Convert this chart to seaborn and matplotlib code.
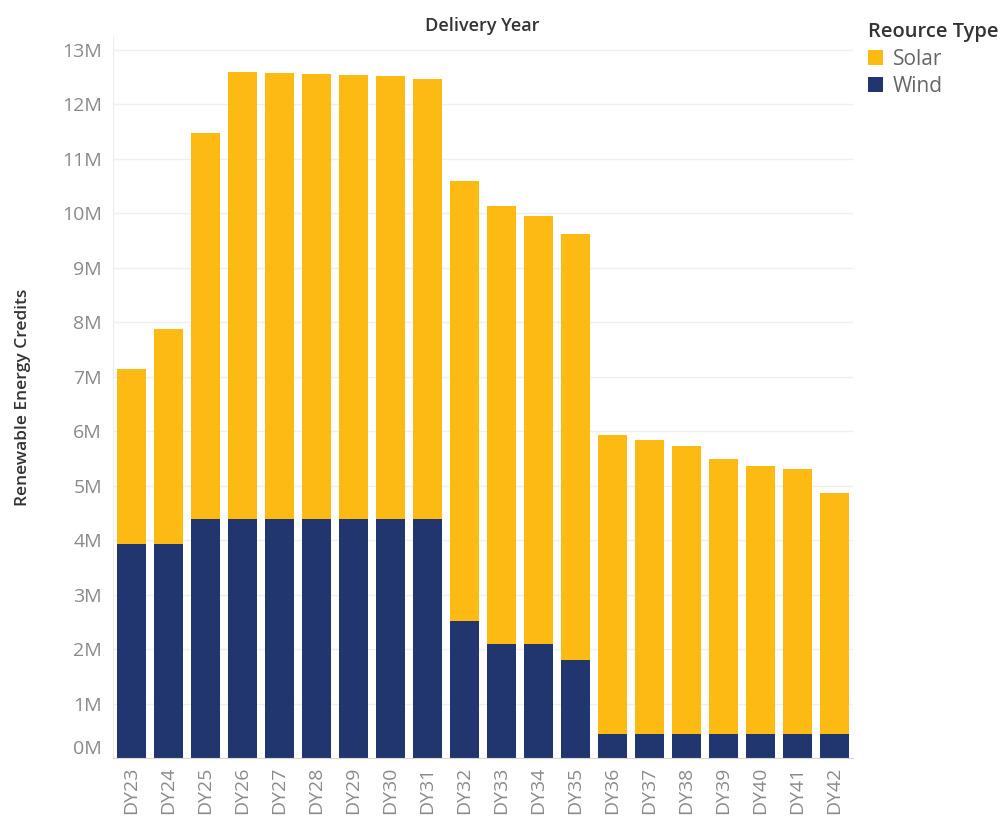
import seaborn as sns
import matplotlib.pyplot as plt
import pandas as pd

# Данные (млн сертификатов)
years = ['DY23', 'DY24', 'DY25', 'DY26', 'DY27', 'DY28', 'DY29', 'DY30', 'DY31', 'DY32',
         'DY33', 'DY34', 'DY35', 'DY36', 'DY37', 'DY38', 'DY39', 'DY40', 'DY41', 'DY42']
wind = [3.93, 3.93, 4.39, 4.39, 4.39, 4.39, 4.39, 4.39, 4.39, 2.52,
        2.09, 2.09, 1.80, 0.44, 0.44, 0.44, 0.44, 0.44, 0.44, 0.44]
total = [7.14, 7.88, 11.48, 12.60, 12.58, 12.56, 12.54, 12.52, 12.47, 10.59,
         10.14, 9.95, 9.62, 5.93, 5.84, 5.73, 5.49, 5.36, 5.31, 4.87]
y_ticks = list(range(0, 14))

solar_color = '#FCBA12'
wind_color = '#21366E'

df = pd.DataFrame({'Год': years, 'Wind': wind, 'Total': total})

sns.set_style('white')
plt.rcParams['font.family'] = ['Open Sans', 'DejaVu Sans']

fig = plt.figure(figsize=(10, 8.16), dpi=100)
ax = fig.add_axes([0.113, 0.071, 0.74, 0.884])

# Сначала общая высота (Solar сверху), затем Wind снизу
sns.barplot(data=df, x='Год', y='Total', color=solar_color, width=0.76,
            saturation=1, linewidth=0, ax=ax, label='Solar')
sns.barplot(data=df, x='Год', y='Wind', color=wind_color, width=0.76,
            saturation=1, linewidth=0, ax=ax, label='Wind')

ax.set_xlim(-0.5, len(years) - 0.5)
ax.set_ylim(0, 13.24)
ax.set_yticks(y_ticks)
ax.set_yticklabels([f'{v}M' for v in y_ticks])
ax.get_yticklabels()[0].set_verticalalignment('bottom')
ax.yaxis.grid(True, color='#efefef', linewidth=1)
ax.set_axisbelow(True)
ax.tick_params(axis='y', labelsize=14, labelcolor='#8a8a8a', length=0, pad=8)
ax.tick_params(axis='x', labelsize=14, labelcolor='#8a8a8a', length=0, pad=6, rotation=90)

for side in ['top', 'right']:
    ax.spines[side].set_visible(False)
ax.spines['left'].set_color('#ededed')
ax.spines['bottom'].set_color('#d9d9d9')

ax.set_xlabel('')
ax.set_ylabel('Renewable Energy Credits', fontsize=12.5, fontweight='semibold', color='#333333', labelpad=22)
fig.text(0.482, 0.968, 'Delivery Year', ha='center', va='center', fontsize=13,
         fontweight='semibold', color='#333333')

handles, labels = ax.get_legend_handles_labels()
leg = ax.legend(handles, labels, title='Reource Type', loc='upper left',
                bbox_to_anchor=(1.0, 1.04), frameon=False, fontsize=15,
                handlelength=0.75, handleheight=0.75, handletextpad=0.45,
                labelspacing=0.3, alignment='left', borderpad=0.2)
leg.get_title().set_fontsize(14.5)
leg.get_title().set_fontweight('semibold')
leg.get_title().set_color('#333333')
for t in leg.get_texts():
    t.set_color('#666666')

fig.savefig('out.png', dpi=100)
